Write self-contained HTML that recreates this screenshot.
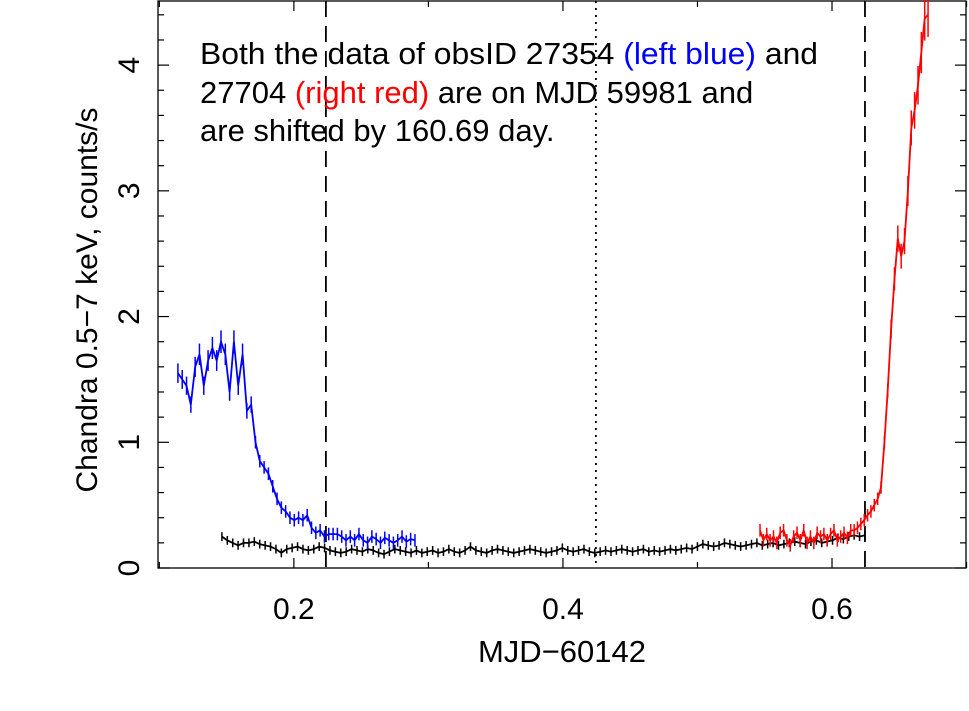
<!DOCTYPE html>
<html><head><meta charset="utf-8"><style>
body{margin:0;background:#fff;}
svg{display:block;font-family:"Liberation Sans",sans-serif;}
</style></head><body>
<svg id="chart" width="969" height="711" viewBox="0 0 969 711">
<rect x="158" y="1" width="808" height="567" fill="none" stroke="#000" stroke-width="1.3"/>
<g id="axes"></g>
<g id="marks"></g>
<text x="562" y="662" font-size="31" text-anchor="middle">MJD−60142</text>
<text transform="translate(97,300) rotate(-90)" font-size="30" text-anchor="middle">Chandra 0.5−7 keV, counts/s</text>
<g font-size="31">
<text x="200" y="64" textLength="618" lengthAdjust="spacingAndGlyphs">Both the data of obsID 27354 <tspan fill="#0000ff">(left blue)</tspan> and</text>
<text x="200" y="103">27704 <tspan fill="#ff0000">(right red)</tspan> are on MJD 59981 and</text>
<text x="200" y="141">are shifted by 160.69 day.</text>
</g>
</svg>
<script>
const xTicks=[0.2,0.4,0.6];
const yTicks=[0,1,2,3,4];
const blueStart=0.1138, blueEnd=0.29;
const blueVals=[1.55,1.50,1.45,1.30,1.60,1.70,1.45,1.65,1.75,1.65,1.80,1.70,1.40,1.80,1.45,1.70,1.25,1.30,1.00,0.85,0.80,0.75,0.65,0.55,0.48,0.45,0.40,0.38,0.40,0.38,0.42,0.32,0.28,0.30,0.25,0.27,0.27,0.27,0.25,0.22,0.25,0.22,0.27,0.22,0.20,0.25,0.23,0.20,0.24,0.22,0.20,0.22,0.25,0.21,0.23,0.22];
const blackStart=0.1465, blackEnd=0.6245;
const blackVals=[0.25,0.22,0.2,0.18,0.2,0.2,0.21,0.19,0.18,0.17,0.15,0.12,0.15,0.16,0.17,0.15,0.14,0.15,0.17,0.16,0.14,0.13,0.12,0.13,0.15,0.14,0.13,0.15,0.14,0.12,0.11,0.13,0.15,0.14,0.13,0.12,0.14,0.12,0.13,0.14,0.12,0.13,0.15,0.13,0.12,0.14,0.17,0.14,0.13,0.12,0.14,0.15,0.14,0.13,0.12,0.13,0.14,0.15,0.14,0.13,0.12,0.13,0.14,0.16,0.14,0.13,0.14,0.15,0.13,0.12,0.13,0.14,0.13,0.14,0.15,0.14,0.13,0.14,0.15,0.13,0.14,0.13,0.14,0.15,0.14,0.15,0.16,0.15,0.17,0.19,0.18,0.17,0.18,0.2,0.19,0.18,0.17,0.18,0.19,0.2,0.18,0.19,0.2,0.18,0.19,0.2,0.21,0.2,0.19,0.21,0.22,0.2,0.21,0.22,0.24,0.23,0.25,0.26,0.25,0.26];
const redStart=0.5465, redEnd=0.6714;
const redVals=[0.3,0.22,0.27,0.22,0.25,0.2,0.28,0.3,0.22,0.18,0.25,0.28,0.22,0.3,0.2,0.25,0.2,0.28,0.25,0.27,0.22,0.27,0.3,0.22,0.25,0.28,0.24,0.3,0.3,0.32,0.35,0.38,0.42,0.45,0.5,0.55,0.64,1.0,1.41,1.9,2.3,2.62,2.48,2.6,3.0,3.5,3.64,3.84,4.1,4.37,4.4];
const vLines=[0.2238,0.6245];
const dotLine=[0.4245];

const X0=158,X1=966,Y0=568,Y1=1,xmin=0.099,xmax=0.6996,ymin=0,ymax=4.51;
const xs=v=>X0+(v-xmin)/(xmax-xmin)*(X1-X0);
const ys=v=>Y0-(v-ymin)/(ymax-ymin)*(Y0-Y1);
const NS="http://www.w3.org/2000/svg";
function mk(tag,attrs,parent){const e=document.createElementNS(NS,tag);for(const k in attrs)e.setAttribute(k,attrs[k]);parent.appendChild(e);return e;}
const axes=document.getElementById('axes'),marks=document.getElementById('marks');

for(let t=0.1;t<=0.7;t+=0.1){
  const x=xs(t),maj=xTicks.some(v=>Math.abs(v-t)<1e-6);
  const L=maj?10:6;
  const a=mk('line',{x1:x,x2:x,y1:Y0,y2:Y0-L,stroke:'#000','stroke-width':1.2},axes);
  
  
  const b=mk('line',{x1:x,x2:x,y1:Y1,y2:Y1+L,stroke:'#000','stroke-width':1.2},axes);
  
  
}
xTicks.forEach(t=>{
  const tx=mk('text',{x:xs(t),y:619,'font-size':30,'text-anchor':'middle'},axes);
  tx.textContent=t.toFixed(1);
  
  
});
for(let i=0;i<=22;i++){
  const t=i*0.2,y=ys(t),maj=i%5===0,L=maj?11:6;
  const a=mk('line',{x1:X0,x2:X0+L,y1:y,y2:y,stroke:'#000','stroke-width':1.2},axes);
  
  
  const b=mk('line',{x1:X1,x2:X1-L,y1:y,y2:y,stroke:'#000','stroke-width':1.2},axes);
  
  
}
yTicks.forEach(t=>{
  const tx=mk('text',{transform:`translate(139,${ys(t)}) rotate(-90)`,'font-size':30,'text-anchor':'middle'},axes);
  tx.textContent=String(t);
  
  
});
vLines.forEach(v=>{
  const l=mk('line',{x1:xs(v),x2:xs(v),y1:Y1,y2:Y0,stroke:'#000','stroke-width':1.8,'stroke-dasharray':'16,9'},marks);
  
  
});
dotLine.forEach(v=>{
  const l=mk('line',{x1:xs(v),x2:xs(v),y1:Y1,y2:Y0,stroke:'#000','stroke-width':1.8,'stroke-dasharray':'2,5'},marks);
  
  
});
function series(vals,start,end,color,name,errFrac,errMin){
  const g=mk('g',{},marks);
  
  
  const n=vals.length,step=(end-start)/(n-1);
  let d='';
  vals.forEach((v,i)=>{
    const t=start+i*step,x=xs(t),y=ys(v);
    d+=(i?'L':'M')+x.toFixed(1)+','+y.toFixed(1);
    const e=Math.max(errMin,v*errFrac);
    const eb=mk('line',{x1:x,x2:x,y1:ys(v+e),y2:ys(Math.max(0,v-e)),stroke:color,'stroke-width':1.5},g);
    
    
  });
  const p=mk('path',{d:d,fill:'none',stroke:color,'stroke-width':1.8},g);
  
  
}
series(blackVals,blackStart,blackEnd,'#000','black-series',0,0.035);
series(blueVals,blueStart,blueEnd,'#0000ff','blue-series',0.05,0.05);
series(redVals,redStart,redEnd,'#ff0000','red-series',0.04,0.05);
</script>
</body></html>
